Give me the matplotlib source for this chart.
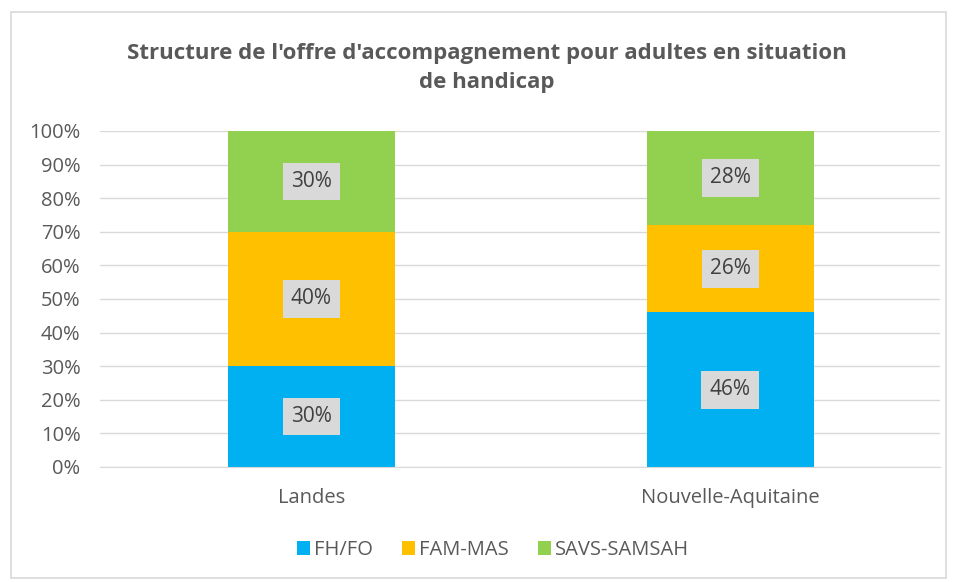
import matplotlib.pyplot as plt
from matplotlib.patches import Rectangle

categories = ['Landes', 'Nouvelle-Aquitaine']
series = ['FH/FO', 'FAM-MAS', 'SAVS-SAMSAH']
fh_fo = [30, 46]
fam_mas = [40, 26]
savs_samsah = [30, 28]
colors = ['#00B0F0', '#FFC000', '#92D050']

plt.rcParams['font.family'] = ['Open Sans', 'DejaVu Sans']

fig = plt.figure(figsize=(9.55, 5.82), dpi=100)
ax = fig.add_axes([0.1047, 0.1976, 0.8793, 0.5774])

# light border around the chart area
fig.patches.append(Rectangle((0.011, 0.007), 0.98, 0.972, transform=fig.transFigure,
                             fill=False, edgecolor='#D9D9D9', linewidth=1.2))

x = range(len(categories))
bottom = [0, 0]
for name, vals, col in zip(series, [fh_fo, fam_mas, savs_samsah], colors):
    ax.bar(x, vals, width=0.4, bottom=bottom, color=col, label=name, zorder=2)
    for xi, b, v in zip(x, bottom, vals):
        ax.text(xi, b + v / 2, f'{v}%', ha='center', va='center', fontsize=15,
                color='#404040', zorder=3,
                bbox=dict(boxstyle='square,pad=0.4', facecolor='#D9D9D9', edgecolor='none'))
    bottom = [b + v for b, v in zip(bottom, vals)]

ax.set_ylim(0, 100)
ax.set_xlim(-0.505, 1.5)
ax.set_yticks(range(0, 101, 10))
ax.set_yticklabels([f'{t}%' for t in range(0, 101, 10)])
ax.set_xticks(list(x))
ax.set_xticklabels(categories)
ax.tick_params(axis='both', length=0, labelsize=14.5, labelcolor='#595959')
ax.tick_params(axis='y', pad=14)
ax.tick_params(axis='x', pad=15)
ax.yaxis.grid(True, color='#D9D9D9', linewidth=1, zorder=0)
for s in ['top', 'right', 'left']:
    ax.spines[s].set_visible(False)
ax.spines['bottom'].set_color('#D9D9D9')

fig.text(0.51, 0.884, "Structure de l'offre d'accompagnement pour adultes en situation\nde handicap",
         ha='center', va='center', fontsize=16, fontweight='bold', color='#595959',
         linespacing=1.5)

ax.legend(loc='center', bbox_to_anchor=(0.468, -0.247), ncol=3, frameon=False,
          fontsize=14.5, labelcolor='#595959', handlelength=0.65, handleheight=0.65,
          handletextpad=0.2, columnspacing=1.45)

fig.savefig('out.png', dpi=100)
